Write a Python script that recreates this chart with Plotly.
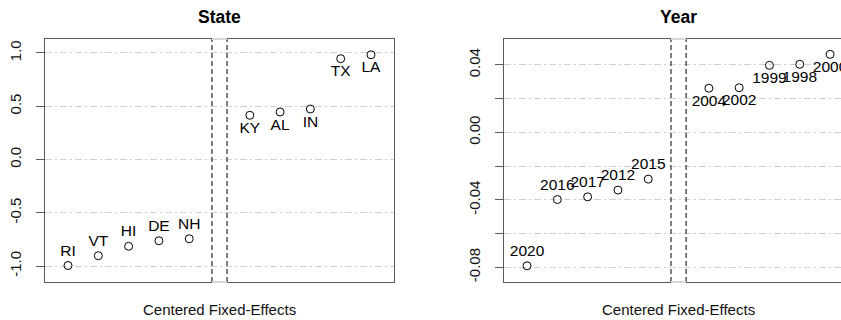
import plotly.graph_objects as go

# ---- data ----
state_low_labels = ["RI", "VT", "HI", "DE", "NH"]
state_low_values = [-0.995, -0.903, -0.815, -0.763, -0.744]
state_high_labels = ["KY", "AL", "IN", "TX", "LA"]
state_high_values = [0.415, 0.446, 0.474, 0.946, 0.983]

year_low_labels = ["2020", "2016", "2017", "2012", "2015"]
year_low_values = [-0.0791, -0.0398, -0.0382, -0.0342, -0.0277]
year_high_labels = ["2004", "2002", "1999", "1998", "2000"]
year_high_values = [0.0262, 0.0265, 0.0398, 0.0404, 0.0463]

state_ticks = [-1.0, -0.5, 0.0, 0.5, 1.0]
state_ticktext = ["-1.0", "-0.5", "0.0", "0.5", "1.0"]
year_ticks = [-0.08, -0.06, -0.04, -0.02, 0.0, 0.02, 0.04]
year_ticktext = ["-0.08", "", "-0.04", "", "0.00", "", "0.04"]

FONT = "Liberation Sans, Arial, Helvetica, sans-serif"
AXC = "#5a5a5a"
GRIDC = "#d0d0d0"
W, H = 841, 320

fig = go.Figure()


def add_panel(low_labels, low_vals, high_labels, high_vals, xa, ya):
    n_low = len(low_labels)
    x_low = list(range(1, n_low + 1))
    gap = n_low + 1
    x_high = list(range(gap + 1, gap + 1 + len(high_labels)))
    marker = dict(symbol="circle-open", size=8, color="black", line=dict(width=1, color="black"))
    fig.add_trace(go.Scatter(x=x_low, y=low_vals, text=low_labels, mode="markers+text",
                             textposition="top center", marker=marker,
                             textfont=dict(family=FONT, size=15.5, color="black"),
                             cliponaxis=False, xaxis=xa, yaxis=ya, showlegend=False,
                             hoverinfo="skip"))
    fig.add_trace(go.Scatter(x=x_high, y=high_vals, text=high_labels, mode="markers+text",
                             textposition="bottom center", marker=marker,
                             textfont=dict(family=FONT, size=15.5, color="black"),
                             cliponaxis=False, xaxis=xa, yaxis=ya, showlegend=False,
                             hoverinfo="skip"))
    return gap


gap1 = add_panel(state_low_labels, state_low_values, state_high_labels, state_high_values, "x", "y")
gap2 = add_panel(year_low_labels, year_low_values, year_high_labels, year_high_values, "x2", "y2")

ydom = [1 - 282 / H, 1 - 39 / H]
common_x = dict(showgrid=False, zeroline=False, showticklabels=False, ticks="",
                showline=True, linecolor=AXC, linewidth=1.3, mirror=True)
common_y = dict(showgrid=True, gridcolor=GRIDC, griddash="7px,3px,2px,3px", gridwidth=1,
                zeroline=False, showline=True, linecolor=AXC, linewidth=1.3,
                ticks="outside", ticklen=8, tickcolor=AXC, tickwidth=1.3,
                tickangle=-90, ticklabelstandoff=9,
                tickfont=dict(family=FONT, size=15, color="#111"))

fig.update_layout(
    width=W, height=H, margin=dict(l=0, r=0, t=0, b=0),
    paper_bgcolor="white", plot_bgcolor="white",
    xaxis=dict(domain=[45 / W, 394 / W], range=[0.24, 11.76], **common_x),
    yaxis=dict(domain=ydom, range=[-1.15, 1.131], tickvals=state_ticks, ticktext=state_ticktext,
               mirror=True, **common_y),
    xaxis2=dict(domain=[504 / W, 1.0], range=[0.24, 11.36], anchor="y2", **common_x),
    yaxis2=dict(domain=ydom, range=[-0.0887, 0.0554], tickvals=year_ticks, ticktext=year_ticktext,
                anchor="x2", **common_y),
)

shapes = []
for xa, ya, g in [("x", "y", gap1), ("x2", "y2", gap2)]:
    for dx in (-0.25, 0.25):
        shapes.append(dict(type="line", xref=xa, yref=ya + " domain", x0=g + dx, x1=g + dx,
                           y0=0, y1=1, line=dict(color="#555", width=1.5, dash="5px,3px"),
                           layer="above"))
    for yy in (0, 1):
        shapes.append(dict(type="line", xref=xa, yref=ya + " domain", x0=g - 0.25, x1=g + 0.25,
                           y0=yy, y1=yy, line=dict(color="#d8d8d8", width=2), layer="above"))
fig.update_layout(shapes=shapes)

annotations = [
    dict(text="<b>State</b>", x=219.5 / W, y=1 - 17 / H, xref="paper", yref="paper",
         showarrow=False, font=dict(family=FONT, size=17.5, color="black"), xanchor="center", yanchor="middle"),
    dict(text="<b>Year</b>", x=678.5 / W, y=1 - 17 / H, xref="paper", yref="paper",
         showarrow=False, font=dict(family=FONT, size=17.5, color="black"), xanchor="center", yanchor="middle"),
    dict(text="Centered Fixed-Effects", x=219.5 / W, y=1 - 309 / H, xref="paper", yref="paper",
         showarrow=False, font=dict(family=FONT, size=15, color="#111"), xanchor="center", yanchor="middle"),
    dict(text="Centered Fixed-Effects", x=678.5 / W, y=1 - 309 / H, xref="paper", yref="paper",
         showarrow=False, font=dict(family=FONT, size=15, color="#111"), xanchor="center", yanchor="middle"),
]
fig.update_layout(annotations=annotations)

fig.write_html("out.html", config={"displayModeBar": False},
               post_script="document.body.style.margin='0';document.body.style.overflow='hidden';")
